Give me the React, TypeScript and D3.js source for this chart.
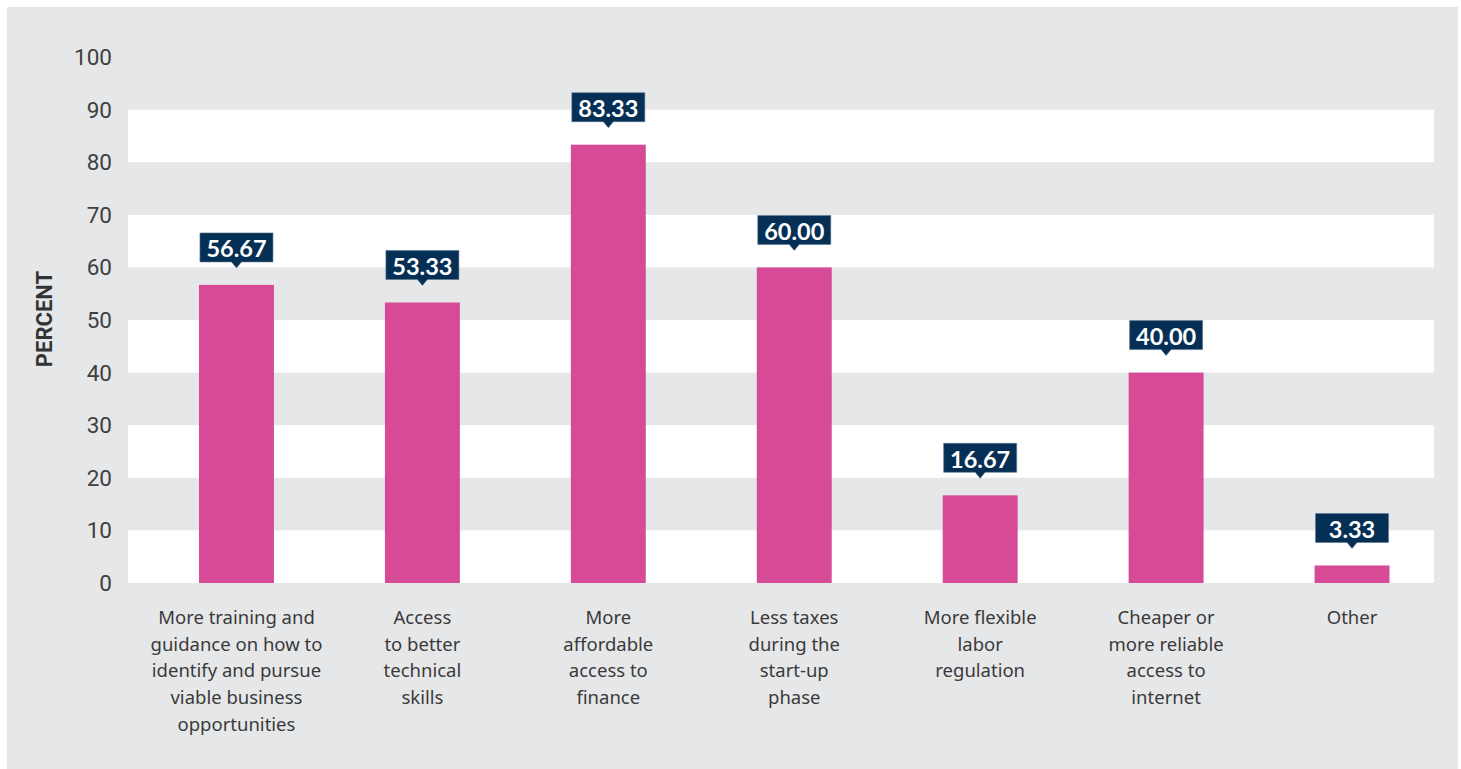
import React from 'react';
import * as d3 from 'd3';

const categories = [
  ['More training and', 'guidance on how to', 'identify and pursue', 'viable business', 'opportunities'],
  ['Access', 'to better', 'technical', 'skills'],
  ['More', 'affordable', 'access to', 'finance'],
  ['Less taxes', 'during the', 'start-up', 'phase'],
  ['More flexible', 'labor', 'regulation'],
  ['Cheaper or', 'more reliable', 'access to', 'internet'],
  ['Other'],
];
const values = [56.67, 53.33, 83.33, 60.0, 16.67, 40.0, 3.33];
const yTicks = [0, 10, 20, 30, 40, 50, 60, 70, 80, 90, 100];

const App = () => {
  const width = 1461;
  const height = 769;
  const plot = { left: 128, right: 1434, top: 57, bottom: 583 };

  const yScale = d3.scaleLinear().domain([0, 100]).range([plot.bottom, plot.top]);

  const xScale = d3
    .scaleBand()
    .domain(categories.map((c, i) => String(i)))
    .range([199, 1389.5])
    .paddingInner(0.597)
    .paddingOuter(0);

  // white bands every other 10-point step
  const bands = yTicks.slice(0, -1).filter((t, i) => i % 2 === 0);

  const boxW = 73;
  const boxH = 29;

  return (
    <svg
      width={width}
      height={height}
      viewBox={`0 0 ${width} ${height}`}
      style={{ position: 'absolute', left: 0, top: 0 }}
    >
      <rect x={0} y={0} width={width} height={height} fill='#fff' />
      <rect x={7} y={7} width={1451} height={762} fill='#e6e7e9' />

      {bands.map(t => (
        <rect
          key={`band-${t}`}
          x={plot.left}
          y={yScale(t + 10)}
          width={plot.right - plot.left}
          height={yScale(t) - yScale(t + 10)}
          fill='#fff'
        />
      ))}

      {yTicks.map(t => (
        <text
          key={`tick-${t}`}
          x={112}
          y={yScale(t)}
          textAnchor='end'
          dominantBaseline='central'
          fontFamily='Roboto, sans-serif'
          fontSize={22.5}
          fill='#404040'
        >
          {t}
        </text>
      ))}

      <text
        transform={`translate(44, 319) rotate(-90)`}
        textAnchor='middle'
        dominantBaseline='central'
        fontFamily='Roboto, sans-serif'
        fontWeight={700}
        fontSize={22}
        fill='#333'
      >
        PERCENT
      </text>

      {values.map((v, i) => (
        <rect
          key={`bar-${i}`}
          x={xScale(String(i))}
          y={yScale(v)}
          width={xScale.bandwidth()}
          height={yScale(0) - yScale(v)}
          fill='#d64a96'
        />
      ))}

      {values.map((v, i) => {
        const cx = xScale(String(i)) + xScale.bandwidth() / 2;
        const bottom = yScale(v) - 23;
        const top = bottom - boxH;
        return (
          <g key={`label-${i}`}>
            <path
              d={`M${cx - boxW / 2},${top}H${cx + boxW / 2}V${bottom}H${cx + 5}L${cx},${bottom + 6}L${cx - 5},${bottom}H${cx - boxW / 2}Z`}
              fill='#052f54'
              stroke='#5a7590'
              strokeWidth={0.6}
            />
            <text
              x={cx}
              y={(top + bottom) / 2 + 1}
              textAnchor='middle'
              dominantBaseline='central'
              fontFamily='Lato, sans-serif'
              fontWeight={700}
              fontSize={23.5}
              fill='#fff'
            >
              {v.toFixed(2)}
            </text>
          </g>
        );
      })}

      {categories.map((lines, i) => {
        const cx = xScale(String(i)) + xScale.bandwidth() / 2;
        return (
          <text
            key={`cat-${i}`}
            textAnchor='middle'
            fontFamily='"Noto Sans", sans-serif'
            fontSize={18.5}
            fill='#3a3a3a'
          >
            {lines.map((line, j) => (
              <tspan key={j} x={cx} y={624 + j * 26.7}>
                {line}
              </tspan>
            ))}
          </text>
        );
      })}
    </svg>
  );
};

export default App;
